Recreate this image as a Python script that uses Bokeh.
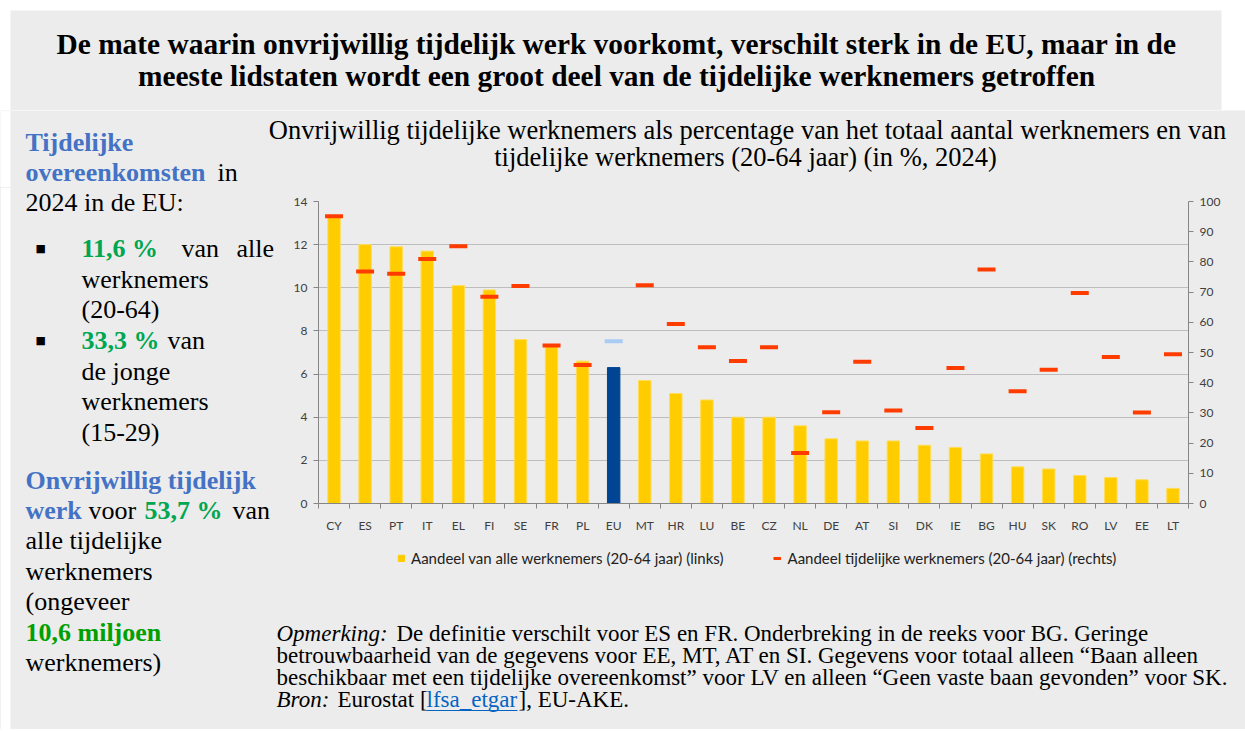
from bokeh.plotting import figure
from bokeh.layouts import column, row
from bokeh.models import (Range1d, LinearAxis, FixedTicker, Label, Legend, LegendItem,
                          ColumnDataSource, BoxAnnotation)
from bokeh.embed import file_html
from bokeh.resources import INLINE

# ---------------- data ----------------
countries = ["CY", "ES", "PT", "IT", "EL", "FI", "SE", "FR", "PL", "EU", "MT", "HR", "LU", "BE",
             "CZ", "NL", "DE", "AT", "SI", "DK", "IE", "BG", "HU", "SK", "RO", "LV", "EE", "LT"]
share_all_employees = [13.3, 12.0, 11.9, 11.7, 10.1, 9.9, 7.6, 7.3, 6.6, 6.3, 5.7, 5.1, 4.8, 4.0,
                       4.0, 3.6, 3.0, 2.9, 2.9, 2.7, 2.6, 2.3, 1.7, 1.6, 1.3, 1.2, 1.1, 0.7]
share_temp_employees = [95.1, 76.8, 76.1, 81.0, 85.2, 68.5, 72.0, 52.3, 45.9, 53.7, 72.3, 59.4, 51.7, 47.2,
                        51.7, 16.7, 30.2, 46.9, 30.8, 25.0, 44.9, 77.5, 37.2, 44.3, 69.7, 48.5, 30.1, 49.4]
left_ticks = [0, 2, 4, 6, 8, 10, 12, 14]
right_ticks = [0, 10, 20, 30, 40, 50, 60, 70, 80, 90, 100]
legend_labels = ["Aandeel van alle werknemers (20-64 jaar) (links)",
                 "Aandeel tijdelijke werknemers (20-64 jaar) (rechts)"]

BG = "#ECECEC"
SERIF = "Liberation Serif"
SANS = "Lato"
BLUE = "#4472C4"
GREEN = "#00A650"
AXC = "#868686"

TOTAL_W = 1245
LEFT_W = 275
TITLE_H = 110
SUB_BOTTOM = 187
MID_BOTTOM = 535
PAGE_BOTTOM = 729
STY = {"background-color": BG}


def text_fig(x0, y0, w, h, white_left=0.0):
    """A plain figure whose frame is the whole canvas; texts are placed with page coordinates."""
    f = figure(width=w, height=h, output_backend="svg", toolbar_location=None, title=None,
               x_range=Range1d(0, w), y_range=Range1d(0, h), x_axis_type=None, y_axis_type=None,
               min_border=0, background_fill_color=BG, border_fill_color=BG, outline_line_color=None)
    if white_left > 0:
        f.add_layout(BoxAnnotation(right=white_left, fill_color="white", fill_alpha=1,
                                   line_color=None, level="underlay"))

    def txt(s, px, base, size, color="#000000", style="normal", font=SERIF, align="left"):
        f.add_layout(Label(x=px - x0, y=(y0 + h) - (base - 0.36 * size), text=s, text_font=font,
                           text_font_size=f"{size}px", text_color=color, text_font_style=style,
                           text_align=align, text_baseline="alphabetic"))
    return f, txt


# ---------------- title ----------------
title_fig, tt = text_fig(0, 0, TOTAL_W, TITLE_H)
title_fig.background_fill_color = "white"
title_fig.border_fill_color = "white"
title_fig.add_layout(BoxAnnotation(left=10, right=1221, bottom=0, top=TITLE_H - 10, fill_color=BG,
                                   fill_alpha=1, line_color=None, level="underlay"))
TF = 29.4
tt("De mate waarin onvrijwillig tijdelijk werk voorkomt, verschilt sterk in de EU, maar in de",
   616, 54.5, TF, style="bold", align="center")
tt("meeste lidstaten wordt een groot deel van de tijdelijke werknemers getroffen",
   616, 86.5, TF, style="bold", align="center")

# ---------------- subtitle band (also first lines of left panel) ----------------
sub_fig, st = text_fig(0, TITLE_H, TOTAL_W, SUB_BOTTOM - TITLE_H, white_left=10)
SF = 26.5
st("Onvrijwillig tijdelijke werknemers als percentage van het totaal aantal werknemers en van",
   747, 138.7, SF, align="center")
st("tijdelijke werknemers (20-64 jaar) (in %, 2024)", 745, 165.7, SF, align="center")
F = 26
st("Tijdelijke", 25, 151.7, F, BLUE, "bold")
st("overeenkomsten", 25, 181, F, BLUE, "bold")
st("in", 217, 181, F)

# ---------------- left panel ----------------
left_fig, lt = text_fig(0, SUB_BOTTOM, LEFT_W, PAGE_BOTTOM - SUB_BOTTOM, white_left=10)
lt("2024 in de EU:", 25, 211, F)
lt("\u25A0", 35, 252, 11, font="DejaVu Sans")
lt("11,6 %", 81, 257.7, F, GREEN, "bold")
lt("van", 181, 257.7, F)
lt("alle", 236, 257.7, F)
lt("werknemers", 81, 288, F)
lt("(20-64)", 81, 318.5, F)
lt("\u25A0", 35, 343.5, 11, font="DejaVu Sans")
lt("33,3 %", 81, 349.5, F, GREEN, "bold")
lt("van", 167, 349.5, F)
lt("de jonge", 81, 380, F)
lt("werknemers", 81, 410.5, F)
lt("(15-29)", 81, 441, F)
lt("Onvrijwillig tijdelijk", 25, 489, F, BLUE, "bold")
lt("werk", 25, 519, F, BLUE, "bold")
lt("voor", 88, 519, F)
lt("53,7 %", 144, 519, F, GREEN, "bold")
lt("van", 232, 519, F)
lt("alle tijdelijke", 25, 549.5, F)
lt("werknemers", 25, 580, F)
lt("(ongeveer", 25, 610.5, F)
lt("10,6 miljoen", 25, 641, F, "#00A000", "bold")
lt("werknemers)", 25, 671.5, F)

# ---------------- chart ----------------
x_idx = list(range(len(countries)))
bar_colors = ["#004494" if c == "EU" else "#FFCC00" for c in countries]
bar_lines = ["#004494" if c == "EU" else "#FFDD55" for c in countries]
dash_colors = ["#A9CCF5" if c == "EU" else "#FF3C00" for c in countries]

src = ColumnDataSource(dict(x=x_idx, cat=countries, allv=share_all_employees,
                            temp=share_temp_employees, bc=bar_colors, bl=bar_lines, dc=dash_colors))

CH_W = TOTAL_W - LEFT_W
p = figure(width=CH_W, height=MID_BOTTOM - SUB_BOTTOM, output_backend="svg", toolbar_location=None,
           title=None, x_range=Range1d(-0.5, len(countries) - 0.5), y_range=Range1d(0, 14),
           min_border_left=318 - LEFT_W, min_border_right=TOTAL_W - 1188,
           min_border_top=201 - SUB_BOTTOM, min_border_bottom=23,
           background_fill_color=BG, border_fill_color=BG, outline_line_color=None)
p.extra_y_ranges = {"right": Range1d(0, 100)}

p.xgrid.visible = False
p.ygrid.ticker = FixedTicker(ticks=left_ticks)
p.ygrid.grid_line_color = "#8F8F8F"
p.ygrid.grid_line_dash = "1 1"
p.ygrid.grid_line_width = 1

xa = p.xaxis[0]
xa.ticker = FixedTicker(ticks=x_idx, minor_ticks=[i - 0.5 for i in range(len(countries) + 1)])
xa.major_label_overrides = {i: c for i, c in enumerate(countries)}
xa.major_tick_line_color = None
xa.major_tick_out = 0
xa.major_tick_in = 0
xa.minor_tick_line_color = AXC
xa.minor_tick_out = 5
xa.minor_tick_in = 0
xa.axis_line_color = AXC
xa.major_label_standoff = 9
xa.major_label_text_font = SANS
xa.major_label_text_font_size = "12px"
xa.major_label_text_color = "#404040"

ya = p.yaxis[0]
ya.ticker = FixedTicker(ticks=left_ticks)
ya.minor_tick_line_color = None
ya.major_tick_out = 5
ya.major_tick_in = 0
ya.major_tick_line_color = AXC
ya.axis_line_color = AXC
ya.major_label_standoff = 6
ya.major_label_text_font = SANS
ya.major_label_text_font_size = "12px"
ya.major_label_text_color = "#404040"

ra = LinearAxis(y_range_name="right", ticker=FixedTicker(ticks=right_ticks))
ra.minor_tick_line_color = None
ra.major_tick_out = 5
ra.major_tick_in = 0
ra.major_tick_line_color = AXC
ra.axis_line_color = AXC
ra.major_label_standoff = 6
ra.major_label_text_font = SANS
ra.major_label_text_font_size = "12px"
ra.major_label_text_color = "#404040"
p.add_layout(ra, "right")

bars = p.vbar(x="x", top="allv", bottom=0, width=0.4, fill_color="bc", line_color="bl",
              line_width=1, source=src)
dashes = p.scatter(x="x", y="temp", marker="dash", size=18, line_width=4, line_color="dc",
                   y_range_name="right", source=src)

# ---------------- bottom right: legend and notes ----------------
BOT_H = PAGE_BOTTOM - MID_BOTTOM
bot_fig, bt = text_fig(LEFT_W, MID_BOTTOM, CH_W, BOT_H)

# legend swatch renderers (kept outside the visible range; only their legend glyphs show)
sw_bar = bot_fig.vbar(x=[-100], top=[-100], bottom=[-110], width=1, fill_color="#FFCC00",
                      line_color="#FFCC00")
sw_dash = bot_fig.line(x=[-110, -100], y=[-100, -100], line_color="#FF3C00", line_width=3)
legend = Legend(items=[LegendItem(label=legend_labels[0], renderers=[sw_bar]),
                       LegendItem(label=legend_labels[1], renderers=[sw_dash])],
                orientation="horizontal", location=(397 - LEFT_W, PAGE_BOTTOM - 567),
                background_fill_alpha=0, border_line_color=None,
                label_text_font=SANS, label_text_font_size="15px", label_text_color="#222222",
                glyph_width=8, glyph_height=8, label_height=18, spacing=50, padding=0, margin=0,
                label_standoff=6)
bot_fig.add_layout(legend)

N = 23
bt("Opmerking:", 276, 641.5, N, style="italic")
bt("De definitie verschilt voor ES en FR. Onderbreking in de reeks voor BG. Geringe", 396, 641.5, N)
bt("betrouwbaarheid van de gegevens voor EE, MT, AT en SI. Gegevens voor totaal alleen \u201cBaan alleen",
   276, 663.5, N)
bt("beschikbaar met een tijdelijke overeenkomst\u201d voor LV en alleen \u201cGeen vaste baan gevonden\u201d voor SK.",
   276, 685.5, N)
bt("Bron:", 276, 707.5, N, style="italic")
bt("Eurostat [", 337, 707.5, N)
bt("lfsa_etgar", 426, 707.5, N, "#0563C1")
bt("], EU-AKE.", 518, 707.5, N)
bot_fig.add_layout(BoxAnnotation(left=426 - LEFT_W, right=517 - LEFT_W, bottom=PAGE_BOTTOM - 710.5,
                                 top=PAGE_BOTTOM - 709.5, fill_color="#0563C1", fill_alpha=1,
                                 line_color=None))

right_col = column(p, column(bot_fig, styles=STY), styles=STY)
layout = column(title_fig, sub_fig, row(left_fig, right_col, styles=STY), styles={"background-color": "white"})
html = file_html(layout, INLINE)
open("out.html", "w").write(html)
